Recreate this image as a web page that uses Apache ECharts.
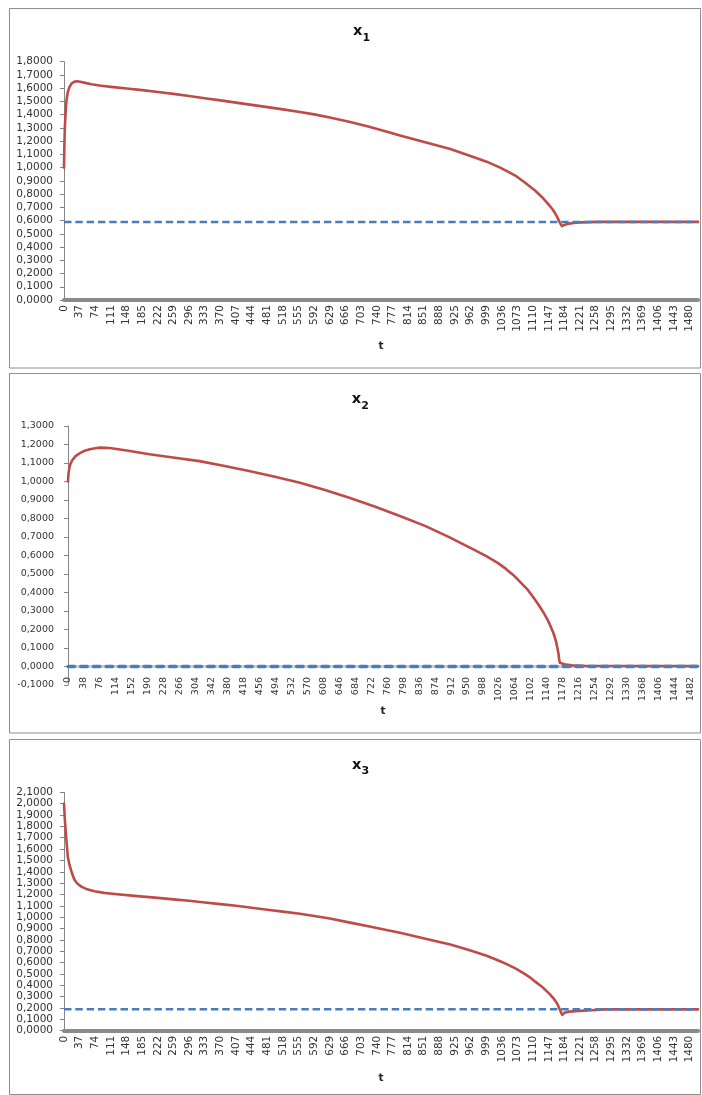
<!DOCTYPE html>
<html>
<head>
<meta charset="utf-8">
<script src="https://cdn.jsdelivr.net/npm/echarts@6/dist/echarts.min.js"></script>
<style>
  html, body { margin: 0; padding: 0; background: #ffffff; }
  #chart { width: 702px; height: 1095px; }
</style>
</head>
<body>
<div id="chart"></div>
<script>
// time steps t = 0 … 1500 (category axis ticks)
const tSteps = Array.from({ length: 1501 }, (_, i) => String(i));

// x1 trajectory, [t, value]
const x1Path = [
  [0, 1.00], [1, 1.18], [2, 1.30], [4, 1.43], [6, 1.51], [9, 1.57], [13, 1.61], [18, 1.635],
  [24, 1.648], [30, 1.652], [38, 1.648], [50, 1.640], [65, 1.630], [84, 1.620], [111, 1.610],
  [148, 1.597], [185, 1.585], [222, 1.571], [259, 1.557], [296, 1.541], [333, 1.524],
  [370, 1.508], [407, 1.491], [444, 1.474], [481, 1.457], [518, 1.440], [558, 1.420],
  [592, 1.402], [629, 1.378], [677, 1.345], [720, 1.310], [760, 1.275], [795, 1.243],
  [850, 1.195], [914, 1.140], [960, 1.090], [1000, 1.045], [1032, 1.000], [1050, 0.970],
  [1070, 0.935], [1088, 0.893], [1103, 0.855], [1115, 0.825], [1130, 0.780], [1140, 0.745],
  [1151, 0.705], [1157, 0.680], [1162, 0.655], [1166, 0.632], [1170, 0.605], [1173, 0.585],
  [1175, 0.570], [1178, 0.558], [1185, 0.568], [1195, 0.577], [1210, 0.583], [1225, 0.586],
  [1260, 0.590], [1500, 0.590]
];
// x1 steady state
const x1Steady = [[0, 0.59], [1500, 0.59]];

// x2 trajectory, [t, value]
const x2Path = [
  [0, 1.00], [1, 1.04], [3, 1.07], [5, 1.09], [10, 1.115], [18, 1.137], [28, 1.153],
  [40, 1.166], [52, 1.174], [65, 1.180], [76, 1.183], [99, 1.181], [140, 1.168],
  [194, 1.147], [250, 1.130], [313, 1.110], [370, 1.085], [431, 1.057], [490, 1.027],
  [550, 0.994], [610, 0.955], [668, 0.913], [730, 0.865], [787, 0.816], [850, 0.760],
  [905, 0.702], [965, 0.633], [995, 0.598], [1024, 0.559], [1042, 0.529], [1060, 0.495],
  [1095, 0.414], [1110, 0.367], [1120, 0.335], [1132, 0.292], [1142, 0.252], [1150, 0.212],
  [1155, 0.185], [1159, 0.158], [1162, 0.135], [1164, 0.113], [1166, 0.090], [1168, 0.068],
  [1169, 0.045], [1171, 0.020], [1174, 0.014], [1185, 0.010], [1200, 0.006], [1230, 0.004],
  [1500, 0.003]
];
// x2 steady state
const x2Steady = [[0, 0.0], [1500, 0.0]];

// x3 trajectory, [t, value]
const x3Path = [
  [0, 2.00], [2, 1.86], [5, 1.71], [9, 1.53], [13, 1.46], [17, 1.41], [21, 1.365],
  [25, 1.328], [32, 1.295], [41, 1.269], [55, 1.245], [72, 1.228], [95, 1.214],
  [120, 1.204], [167, 1.188], [222, 1.170], [259, 1.157], [296, 1.145], [333, 1.130],
  [370, 1.115], [407, 1.100], [444, 1.083], [481, 1.066], [518, 1.049], [558, 1.030],
  [592, 1.011], [629, 0.988], [677, 0.952], [720, 0.920], [760, 0.890], [795, 0.862],
  [850, 0.815], [914, 0.760], [960, 0.708], [1000, 0.660], [1032, 0.612], [1050, 0.582],
  [1070, 0.545], [1088, 0.505], [1103, 0.468], [1115, 0.432], [1130, 0.390], [1140, 0.355],
  [1151, 0.315], [1157, 0.290], [1162, 0.265], [1167, 0.238], [1171, 0.205], [1174, 0.180],
  [1176, 0.160], [1179, 0.140], [1184, 0.158], [1195, 0.168], [1220, 0.175], [1258, 0.183],
  [1280, 0.188], [1500, 0.188]
];
// x3 steady state
const x3Steady = [[0, 0.188], [1500, 0.188]];

const RED = '#BE4B48';
const BLUE = '#4A7EBB';
const FONT = 'DejaVu Sans';

function yAxis(gridIndex, min, max, fontSize, margin) {
  return {
    type: 'value', gridIndex, min, max, interval: 0.1,
    axisLine: { show: true, lineStyle: { color: '#868686', width: 1 } },
    axisTick: { show: true, length: 4, lineStyle: { color: '#868686' } },
    splitLine: { show: false },
    axisLabel: {
      formatter: v => v.toFixed(4).replace('.', ','),
      fontFamily: FONT, fontSize, color: '#333', margin
    }
  };
}

// name: axis title (empty when it is placed as a free text element)
function xAxis(gridIndex, labelInterval, lineColor, lineWidth, fontSize, margin, name, nameGap) {
  return {
    type: 'category', gridIndex, data: tSteps, boundaryGap: false,
    axisLine: { onZero: true, lineStyle: { color: lineColor, width: lineWidth } },
    axisTick: { show: false },
    axisLabel: {
      interval: labelInterval, rotate: 90,
      fontFamily: FONT, fontSize, color: '#333', margin
    },
    name, nameLocation: 'middle', nameGap,
    nameTextStyle: { fontFamily: FONT, fontWeight: 'bold', fontSize: 10.5, color: '#222' }
  };
}

function pathSeries(idx, data) {
  return {
    type: 'line', xAxisIndex: idx, yAxisIndex: idx, data,
    symbol: 'none', smooth: false,
    lineStyle: { color: RED, width: 2.6, join: 'round', cap: 'round' }, z: 2
  };
}

function steadySeries(idx, data, width, dash, cap) {
  return {
    type: 'line', xAxisIndex: idx, yAxisIndex: idx, data,
    symbol: 'none',
    lineStyle: { color: BLUE, width, type: dash, cap }, z: 3
  };
}

function frame(y, h) {
  return {
    type: 'rect', silent: true,
    shape: { x: 9.5, y, width: 691, height: h },
    style: { fill: 'none', stroke: '#8f8f8f', lineWidth: 1 }
  };
}

function heading(left, yMain, ySub, sub) {
  return [
    { type: 'text', silent: true, x: left, y: yMain,
      style: { text: 'x', font: 'bold 14.5px "DejaVu Sans"', fill: '#111', align: 'left', verticalAlign: 'middle' } },
    { type: 'text', silent: true, x: left + 9.5, y: ySub,
      style: { text: sub, font: 'bold 11px "DejaVu Sans"', fill: '#111', align: 'left', verticalAlign: 'middle' } }
  ];
}

const chart = echarts.init(document.getElementById('chart'), null, { renderer: 'canvas' });

chart.setOption({
  animation: false,
  backgroundColor: '#ffffff',
  grid: [
    { left: 64, top: 61.7, width: 634, height: 238.3 },
    { left: 68, top: 426, width: 630, height: 259 },
    { left: 64, top: 792.3, width: 634, height: 238.4 }
  ],
  xAxis: [
    xAxis(0, 36, '#8a8a8a', 4, 10.5, 5, 't', 41),
    // labels of the middle panel hang just under the zero line
    xAxis(1, 37, '#d4cfbf', 3, 9.5, -8, '', 0),
    xAxis(2, 36, '#8a8a8a', 4, 10.5, 5, 't', 42)
  ],
  yAxis: [
    yAxis(0, 0, 1.8, 10.5, 11),
    yAxis(1, -0.1, 1.3, 9.5, 14),
    yAxis(2, 0, 2.1, 10.5, 11)
  ],
  series: [
    pathSeries(0, x1Path),
    steadySeries(0, x1Steady, 2.5, [7.5, 3.8], 'butt'),
    pathSeries(1, x2Path),
    steadySeries(1, x2Steady, 3.4, [6.5, 6.2], 'round'),
    pathSeries(2, x3Path),
    steadySeries(2, x3Steady, 2.5, [7.5, 3.8], 'butt')
  ],
  graphic: [
    frame(8.5, 359.5),
    frame(373.5, 359.5),
    frame(739.5, 355),
    ...heading(353, 31.5, 38.3, '1'),
    ...heading(351.7, 399, 405.8, '2'),
    ...heading(352, 765.3, 771, '3'),
    // axis title of the middle panel, whose axis sits at zero
    { type: 'text', silent: true, x: 383, y: 711,
      style: { text: 't', font: 'bold 10.5px "DejaVu Sans"', fill: '#222', align: 'center', verticalAlign: 'middle' } }
  ]
});
</script>
</body>
</html>
